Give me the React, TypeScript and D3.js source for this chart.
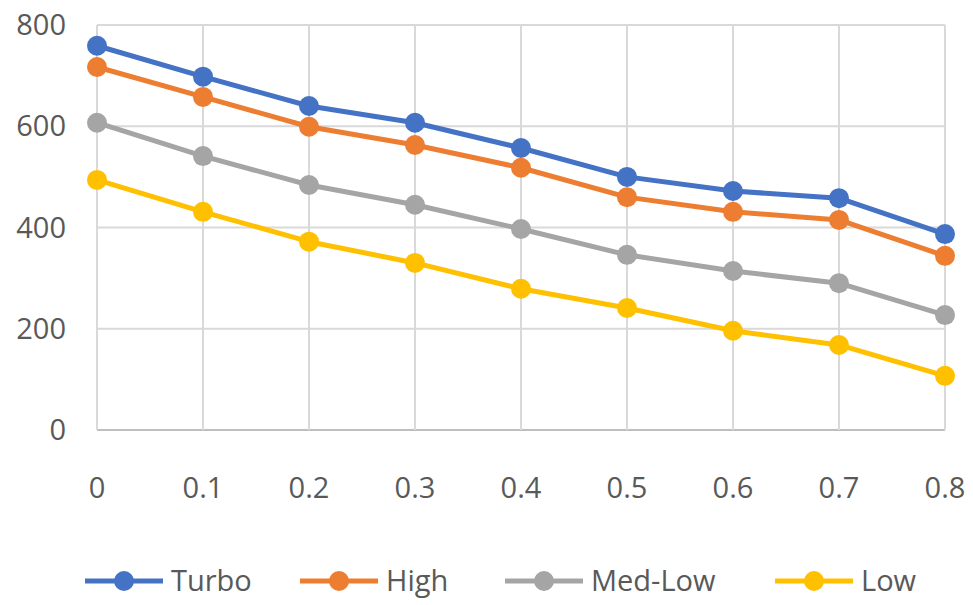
import React from 'react';
import * as d3 from 'd3';

const categories = ['0', '0.1', '0.2', '0.3', '0.4', '0.5', '0.6', '0.7', '0.8'];
const turbo = [759, 698, 640, 607, 557, 500, 472, 458, 387];
const high = [717, 658, 599, 563, 518, 460, 431, 415, 344];
const medLow = [607, 541, 484, 445, 397, 346, 314, 290, 227];
const low = [494, 431, 372, 330, 279, 241, 196, 168, 107];
const yTicks = [0, 200, 400, 600, 800];

const series = [
  { name: 'Turbo', values: turbo, color: '#4472C4' },
  { name: 'High', values: high, color: '#ED7D31' },
  { name: 'Med-Low', values: medLow, color: '#A5A5A5' },
  { name: 'Low', values: low, color: '#FFC000' },
];

export default function App() {
  const width = 973;
  const height = 605;
  const x = d3.scalePoint<string>().domain(categories).range([97, 945]);
  const y = d3.scaleLinear().domain([0, 800]).range([430, 25]);
  const line = d3.line<number>().x((_, i) => x(categories[i])!).y((d) => y(d));
  const font = "'Open Sans', 'Liberation Sans', sans-serif";
  const legendX = [85, 300, 505, 775];

  return (
    <svg width={width} height={height} style={{ position: 'absolute', left: 0, top: 0, background: '#fff' }}>
      {yTicks.map((t) => (
        <g key={t}>
          <line x1={97} x2={945} y1={y(t)} y2={y(t)} stroke={t === 0 ? '#bfbfbf' : '#d9d9d9'} strokeWidth={2} />
          <text x={66} y={y(t)} dy="0.35em" textAnchor="end" fontFamily={font} fontSize={29} fill="#595959">{t}</text>
        </g>
      ))}
      {categories.map((c) => (
        <g key={c}>
          <line x1={x(c)} x2={x(c)} y1={25} y2={430} stroke="#d9d9d9" strokeWidth={2} />
          <text x={x(c)} y={498} textAnchor="middle" fontFamily={font} fontSize={29} fill="#595959">{c}</text>
        </g>
      ))}
      {series.map((s) => (
        <g key={s.name}>
          <path d={line(s.values)!} fill="none" stroke={s.color} strokeWidth={5} strokeLinejoin="round" />
          {s.values.map((v, i) => (
            <circle key={i} cx={x(categories[i])} cy={y(v)} r={10} fill={s.color} />
          ))}
        </g>
      ))}
      {series.map((s, i) => (
        <g key={s.name} transform={`translate(${legendX[i]},581)`}>
          <line x1={0} x2={78} y1={0} y2={0} stroke={s.color} strokeWidth={5} />
          <circle cx={39} cy={0} r={10} fill={s.color} />
          <text x={86} y={0} dy="0.35em" fontFamily={font} fontSize={29} fill="#595959">{s.name}</text>
        </g>
      ))}
    </svg>
  );
}
